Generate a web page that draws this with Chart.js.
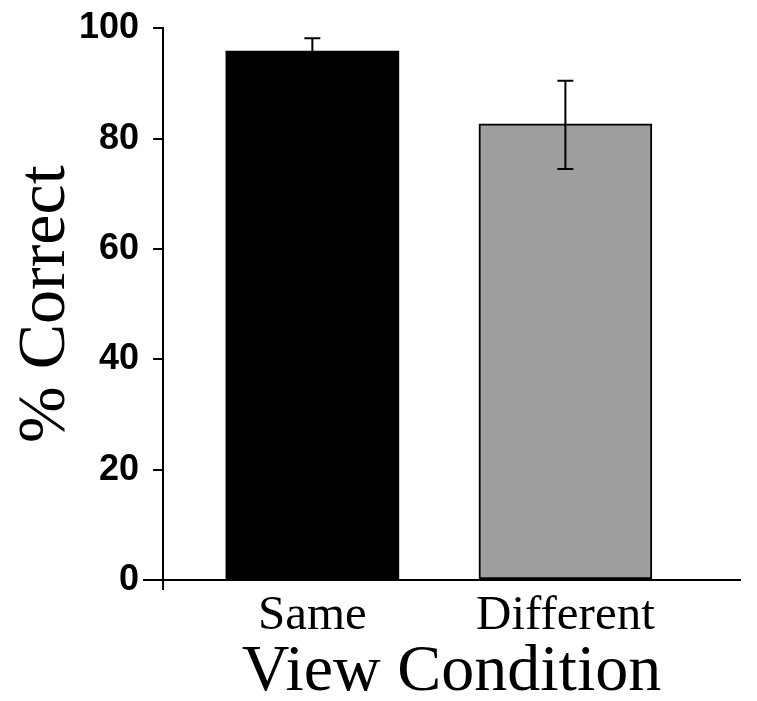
<!DOCTYPE html>
<html>
<head>
<meta charset="utf-8">
<script src="https://cdn.jsdelivr.net/npm/chart.js@4/dist/chart.umd.min.js"></script>
<style>
  html, body { margin: 0; padding: 0; background: #fff; }
  #wrap { width: 757px; height: 701px; }
</style>
</head>
<body>
<div id="wrap"><canvas id="myChart"></canvas></div>
<script>
// chart data
const categories = ["Same", "Different"];
const positions = [1, 2];
const percentCorrect = [95.9, 82.7];
const errorHigh = [98.2, 90.5];
const errorLow = [95.9, 74.5];
const yTicks = [0, 20, 40, 60, 80, 100];

const barColors = ["#000000", "#9e9e9e"];

//Draws the error bars using the chart scales
const errorBarPlugin = {
  id: "errorBars",
  afterDatasetsDraw(chart) {
    const ctx = chart.ctx;
    const xs = chart.scales.x;
    const ys = chart.scales.y;
    ctx.save();
    ctx.strokeStyle = "#000";
    ctx.lineWidth = 2;
    positions.forEach((p, i) => {
      const x = xs.getPixelForValue(p);
      const yHi = ys.getPixelForValue(errorHigh[i]);
      const yLo = ys.getPixelForValue(errorLow[i]);
      ctx.beginPath();
      ctx.moveTo(x, yHi);
      ctx.lineTo(x, yLo);
      ctx.moveTo(x - 8, yHi);
      ctx.lineTo(x + 8, yHi);
      if (errorLow[i] < percentCorrect[i]) {
        ctx.moveTo(x - 8, yLo);
        ctx.lineTo(x + 8, yLo);
      }
      ctx.stroke();
    });
    //little overhangs of the axes past the corner
    const a = chart.chartArea;
    ctx.beginPath();
    ctx.moveTo(a.left, a.bottom);
    ctx.lineTo(a.left, a.bottom + 10);
    ctx.moveTo(a.left - 20, a.bottom);
    ctx.lineTo(a.left, a.bottom);
    ctx.stroke();
    ctx.restore();
  },
};

new Chart(document.getElementById("myChart"), {
  type: "bar",
  data: {
    datasets: [
      {
        data: positions.map((p, i) => ({ x: p, y: percentCorrect[i] })),
        backgroundColor: barColors,
        borderColor: "#000",
        borderWidth: [0, 2],
        borderSkipped: false,
        barThickness: 173,
      },
    ],
  },
  options: {
    responsive: true,
    maintainAspectRatio: false,
    animation: false,
    layout: { padding: { top: 0, right: 17, left: 12, bottom: 0 } },
    plugins: {
      legend: { display: false },
      tooltip: { enabled: false },
    },
    scales: {
      x: {
        type: "linear",
        offset: false,
        min: 0.41,
        max: 2.69,
        afterBuildTicks: (scale) => {
          scale.ticks = positions.map((v) => ({ value: v }));
        },
        ticks: {
          callback: (v) => categories[positions.indexOf(v)] || "",
          color: "#000",
          font: { family: "Liberation Serif", size: 49, lineHeight: 1 },
          padding: 4,
          maxRotation: 0,
          autoSkip: false,
        },
        grid: { display: false },
        border: { display: true, color: "#000", width: 2 },
        title: {
          display: true,
          text: "View Condition",
          color: "#000",
          font: { family: "Liberation Serif", size: 66, lineHeight: 1 },
          padding: { top: -5, bottom: -5 },
        },
      },
      y: {
        min: 0,
        max: 100,
        afterBuildTicks: (scale) => {
          scale.ticks = yTicks.map((v) => ({ value: v }));
        },
        ticks: {
          color: "#000",
          font: { family: "Liberation Sans", size: 36, weight: "bold", lineHeight: 0.8 },
          padding: 14,
        },
        grid: {
          drawOnChartArea: false,
          drawTicks: true,
          tickLength: 10,
          color: "#000",
          lineWidth: 2,
        },
        border: { display: true, color: "#000", width: 2 },
        title: {
          display: true,
          text: "% Correct",
          color: "#000",
          font: { family: "Liberation Serif", size: 68, lineHeight: 1 },
          padding: { top: 0, bottom: -15 },
        },
      },
    },
  },
  plugins: [errorBarPlugin],
});
</script>
</body>
</html>
